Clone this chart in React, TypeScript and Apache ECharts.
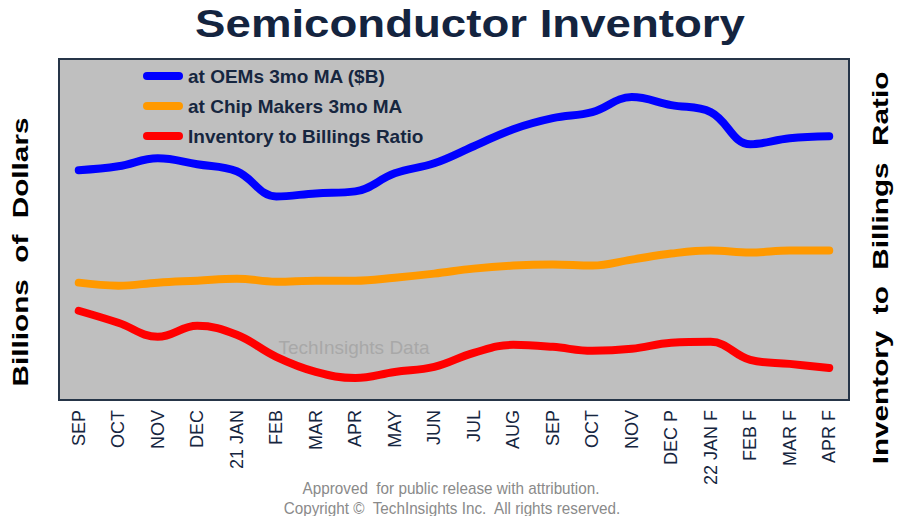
import React, { useEffect, useRef } from "react";
import * as echarts from "echarts";

const categories = [
  "SEP", "OCT", "NOV", "DEC", "21 JAN", "FEB", "MAR", "APR", "MAY", "JUN",
  "JUL", "AUG", "SEP", "OCT", "NOV", "DEC P", "22 JAN F", "FEB F", "MAR F", "APR F",
];

// Inventory at OEMs, 3-month moving average ($B, left axis)
const oemInventory = [
  22.9, 23.3, 24.1, 23.5, 22.8, 20.3, 20.6, 20.8, 22.6, 23.6,
  25.3, 27.0, 28.1, 28.7, 30.2, 29.4, 28.7, 25.5, 26.1, 26.3,
];

// Inventory at chip makers, 3-month moving average ($B, left axis)
const chipMakerInventory = [
  11.7, 11.4, 11.7, 11.9, 12.1, 11.8, 11.9, 11.9, 12.2, 12.6,
  13.1, 13.4, 13.5, 13.4, 14.0, 14.6, 14.9, 14.7, 14.9, 14.9,
];

// Inventory to billings ratio (right axis)
const inventoryToBillings = [
  0.778, 0.754, 0.726, 0.748, 0.730, 0.686, 0.656, 0.644, 0.656, 0.666,
  0.694, 0.710, 0.706, 0.698, 0.702, 0.714, 0.716, 0.680, 0.672, 0.664,
];

const seriesNames = [
  "at OEMs 3mo MA ($B)",
  "at Chip Makers 3mo MA",
  "Inventory to Billings Ratio",
];

const FONT = "'Liberation Sans', Arial, Helvetica, sans-serif";
const NAVY = "#16263f";

export default function App() {
  const ref = useRef<HTMLDivElement>(null);

  useEffect(() => {
    if (!ref.current) return;
    const chart = echarts.init(ref.current, undefined, { renderer: "svg" });
    const legendIcon = "path://M4,0L36,0A4,4,0,0,1,36,8L4,8A4,4,0,0,1,4,0Z";

    chart.setOption({
      animation: false,
      backgroundColor: "#ffffff",
      grid: {
        left: 59,
        right: 55,
        top: 59,
        bottom: 116,
        show: true,
        backgroundColor: "#bfbfbf",
        borderColor: "#263548",
        borderWidth: 2,
      },
      legend: {
        orient: "vertical",
        left: 143,
        top: 66,
        padding: 0,
        itemGap: 10,
        itemWidth: 40,
        itemHeight: 8,
        icon: legendIcon,
        data: seriesNames,
        textStyle: {
          fontFamily: FONT,
          fontSize: 19,
          fontWeight: "bold",
          color: NAVY,
          lineHeight: 20,
        },
      },
      xAxis: {
        type: "category",
        data: categories,
        boundaryGap: true,
        axisLine: { show: false },
        axisTick: { show: false },
        splitLine: { show: false },
        axisLabel: {
          rotate: 90,
          interval: 0,
          margin: 10,
          fontFamily: FONT,
          fontSize: 18,
          color: NAVY,
        },
      },
      yAxis: [
        {
          type: "value",
          min: 0,
          max: 34,
          show: false,
          splitLine: { show: false },
        },
        {
          type: "value",
          min: 0.6,
          max: 1.28,
          show: false,
          splitLine: { show: false },
        },
      ],
      series: [
        {
          name: seriesNames[0],
          type: "line",
          yAxisIndex: 0,
          data: oemInventory,
          smooth: 0.4,
          symbol: "none",
          z: 3,
          lineStyle: { color: "#0000ff", width: 8, cap: "round", join: "round" },
          itemStyle: { color: "#0000ff" },
        },
        {
          name: seriesNames[1],
          type: "line",
          yAxisIndex: 0,
          data: chipMakerInventory,
          smooth: 0.4,
          symbol: "none",
          z: 3,
          lineStyle: { color: "#ff9900", width: 8, cap: "round", join: "round" },
          itemStyle: { color: "#ff9900" },
        },
        {
          name: seriesNames[2],
          type: "line",
          yAxisIndex: 1,
          data: inventoryToBillings,
          smooth: 0.4,
          symbol: "none",
          z: 3,
          lineStyle: { color: "#ff0000", width: 8, cap: "round", join: "round" },
          itemStyle: { color: "#ff0000" },
        },
      ],
      graphic: [
        {
          type: "text",
          x: 470,
          y: 24,
          scaleX: 1.2,
          style: {
            text: "Semiconductor Inventory",
            textAlign: "center",
            textVerticalAlign: "middle",
            fontFamily: FONT,
            fontSize: 38,
            fontWeight: "bold",
            fill: "#14243f",
          },
        },
        {
          type: "text",
          x: 20,
          y: 252,
          rotation: Math.PI / 2,
          scaleX: 1.35,
          style: {
            text: "Billions  of  Dollars",
            textAlign: "center",
            textVerticalAlign: "middle",
            fontFamily: FONT,
            fontSize: 22,
            fontWeight: "bold",
            fill: "#000000",
          },
        },
        {
          type: "text",
          x: 880,
          y: 268,
          rotation: Math.PI / 2,
          scaleX: 1.35,
          style: {
            text: "Inventory  to  Billings  Ratio",
            textAlign: "center",
            textVerticalAlign: "middle",
            fontFamily: FONT,
            fontSize: 22,
            fontWeight: "bold",
            fill: "#000000",
          },
        },
        {
          type: "text",
          x: 354,
          y: 347,
          z: 1,
          style: {
            text: "TechInsights Data",
            textAlign: "center",
            textVerticalAlign: "middle",
            fontFamily: FONT,
            fontSize: 19,
            fill: "#a8a8a8",
          },
        },
        {
          type: "text",
          x: 451,
          y: 488,
          scaleX: 0.955,
          style: {
            text: "Approved  for public release with attribution.",
            textAlign: "center",
            textVerticalAlign: "middle",
            fontFamily: FONT,
            fontSize: 16,
            fill: "#8a8a8a",
          },
        },
        {
          type: "text",
          x: 452,
          y: 508,
          scaleX: 0.955,
          style: {
            text: "Copyright \u00A9  TechInsights Inc.  All rights reserved.",
            textAlign: "center",
            textVerticalAlign: "middle",
            fontFamily: FONT,
            fontSize: 16,
            fill: "#8a8a8a",
          },
        },
      ],
    });

    return () => chart.dispose();
  }, []);

  return (
    <div
      ref={ref}
      style={{ position: "fixed", left: 0, top: 0, width: 904, height: 516 }}
    />
  );
}
